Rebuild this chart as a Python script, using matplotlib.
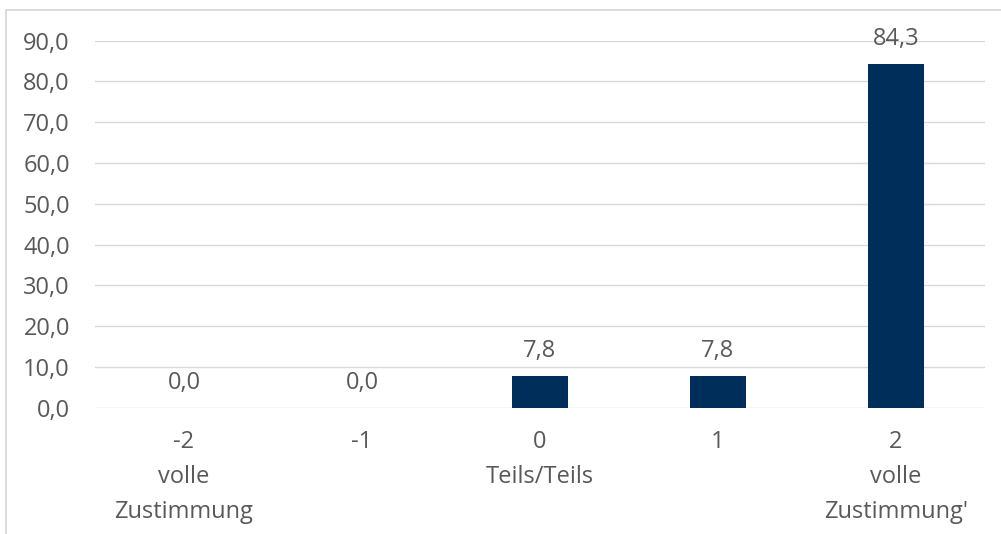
import matplotlib
matplotlib.use("Agg")
import matplotlib.pyplot as plt
from matplotlib.patches import Rectangle

plt.rcParams["font.family"] = ["Open Sans", "DejaVu Sans"]

categories = ["-2\nvolle\nZustimmung", "-1", "0\nTeils/Teils", "1", "2\nvolle\nZustimmung'"]
values = [0.0, 0.0, 7.8, 7.8, 84.3]
y_ticks = [0, 10, 20, 30, 40, 50, 60, 70, 80, 90]

BAR = "#002E5B"
TEXT = "#595959"
GRID = "#D9D9D9"
FS = 17


def fmt(v):
    return f"{v:.1f}".replace(".", ",")


fig = plt.figure(figsize=(10.01, 5.34), dpi=100)
ax = fig.add_axes([95 / 1001, 1 - 407.7 / 534, 890 / 1001, 367 / 534])

# chart frame
fig.patches.append(Rectangle((5.5 / 1001, -0.1), 1.2, 1 - 10.5 / 534 + 0.1,
                             transform=fig.transFigure, fill=False,
                             edgecolor=GRID, linewidth=1.3))

x = list(range(len(categories)))
ax.bar(x, values, width=0.315, color=BAR, zorder=3)

for xi, v in zip(x, values):
    ax.annotate(fmt(v), (xi, v), xytext=(0, 18), textcoords="offset points",
                ha="center", va="center", fontsize=FS, color=TEXT)

ax.set_xlim(-0.5, len(categories) - 0.5)
ax.set_ylim(0, 90)
ax.set_yticks(y_ticks)
ax.set_yticklabels([fmt(t) for t in y_ticks], fontsize=FS, color=TEXT)
ax.set_xticks(x)
ax.set_xticklabels(categories, fontsize=FS, color=TEXT, linespacing=1.6)
ax.tick_params(axis="y", length=0, pad=18)
ax.tick_params(axis="x", length=0, pad=16)

ax.grid(axis="y", color=GRID, linewidth=1.0, zorder=0)
for s in ax.spines.values():
    s.set_visible(False)

fig.savefig("out.png", dpi=100)
